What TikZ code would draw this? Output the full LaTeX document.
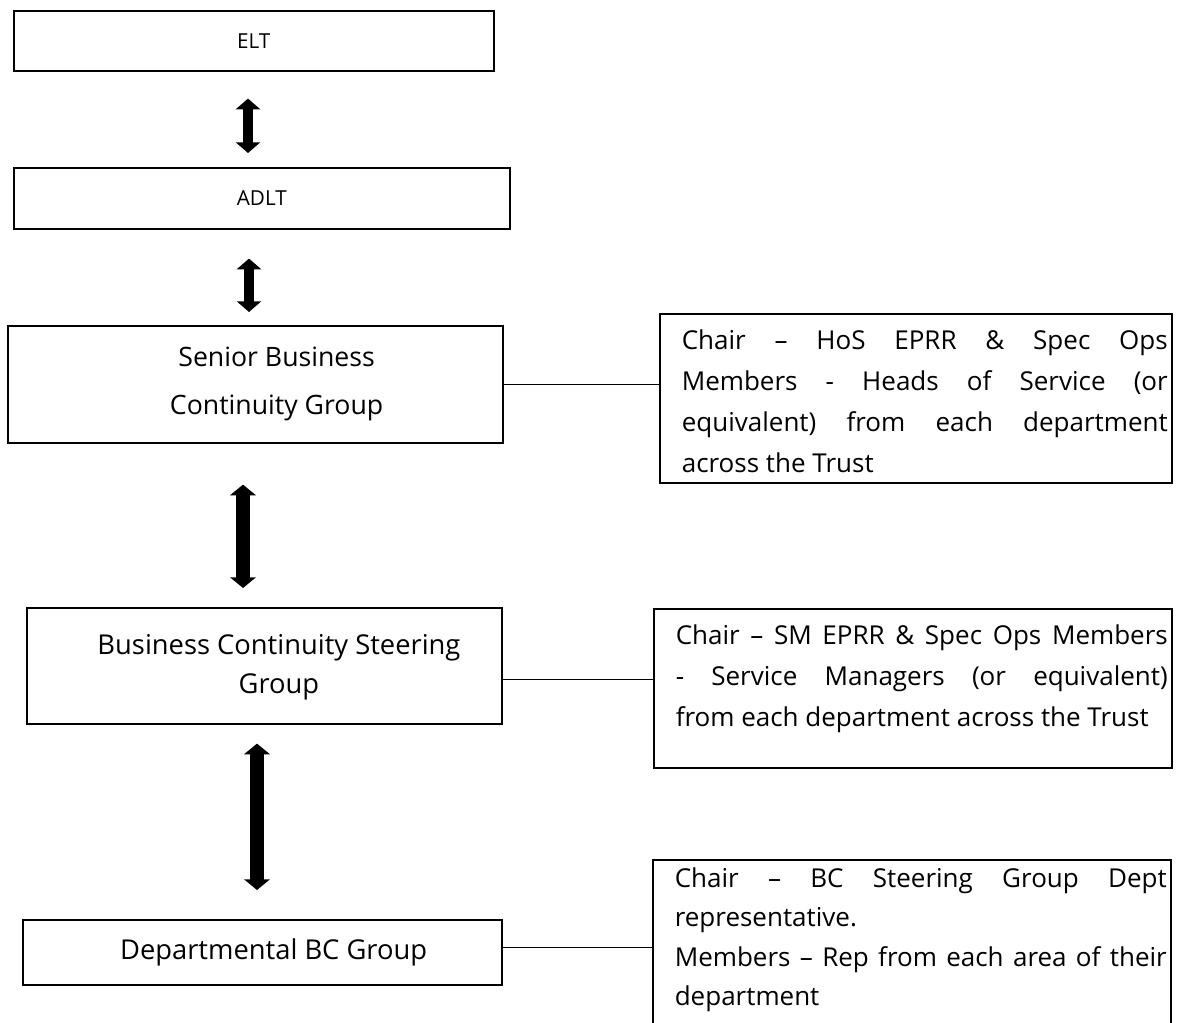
\documentclass[tikz,border=0pt]{standalone}
\usepackage{fontspec}
\setmainfont{Open Sans}
\usetikzlibrary{arrows.meta,calc}

% member text: [line spacing] height, width, text (justified, forced breaks)
\newcommand{\membertext}[4][30.75]{%
  \hspace*{16.5pt}\parbox[t][#2][t]{#3}{\fontsize{19.5}{#1}\selectfont
    \hyphenpenalty=10000 \tolerance=10000 \strut #4}\hspace*{3pt}}

\begin{document}
\begin{tikzpicture}[x=0.75pt, y=-0.75pt,
	groupbox/.style={draw, line width=1.2pt, anchor=north west, inner sep=0pt},
	grouplabel/.style={font=\fontsize{20}{36}\selectfont, align=center},
	membox/.style={draw, line width=1.2pt, anchor=north west, inner xsep=0pt, inner ysep=5pt},
	link/.style={line width=1pt},
	thinarrow/.style={line width=7.5pt, {Triangle[width=18pt,length=8pt]}-{Triangle[width=18pt,length=8pt]}},
	widearrow/.style={line width=10.5pt, {Triangle[width=19pt,length=8pt]}-{Triangle[width=19pt,length=8pt]}}]
	\clip (0,0) rectangle (1179,1023);

	% Draw the group boxes
	\node[groupbox, minimum width=360pt, minimum height=45pt, font=\fontsize{15.5}{18}\selectfont] (elt) at (13,10) {ELT};
	\node[groupbox, minimum width=372pt, minimum height=45.75pt, font=\fontsize{15.5}{18}\selectfont] (adlt) at (13,167) {ADLT};
	\node[groupbox, minimum width=371.25pt, minimum height=87.75pt,
		label={[grouplabel, xshift=16pt]center:{Senior Business\\Continuity Group}}] (sbcg) at (7,325) {};
	\node[groupbox, minimum width=356.25pt, minimum height=87pt,
		label={[grouplabel, xshift=11pt, yshift=-1pt, font=\fontsize{20.5}{29}\selectfont]center:{Business Continuity Steering\\Group}}] (bcsg) at (26,607) {};
	\node[groupbox, minimum width=359.25pt, minimum height=48.75pt,
		label={[grouplabel, xshift=8.5pt, font=\fontsize{20.5}{24}\selectfont]center:{Departmental BC Group}}] (dbcg) at (22,919) {};

	% Draw the membership boxes
	\node[membox] (sbcgm) at (659,313) {\membertext{116.75pt}{364.5pt}{Chair – HoS EPRR \& Spec Ops\linebreak
		Members - Heads of Service (or\linebreak equivalent) from each department\linebreak across the Trust}};
	\node[membox] (bcsgm) at (653,608) {\membertext{109.25pt}{369pt}{Chair – SM EPRR \& Spec Ops Members\linebreak
		- Service Managers (or equivalent)\linebreak from each department across the Trust}};
	\node[membox, inner ysep=0pt] (dbcgm) at (652,859) {\membertext[29.5]{170pt}{369pt}{Chair – BC Steering Group Dept\linebreak
		representative.\\ Members – Rep from each area of their\linebreak department}};

	% Draw the links to the members
	\draw[link] (sbcg.east) -- (sbcg.east -| sbcgm.west);
	\coordinate (c2) at ($(bcsg.east)+(0,14)$);
	\draw[link] (c2) -- (c2 -| bcsgm.west);
	\coordinate (c3) at ($(dbcg.east)+(0,-4.5)$);
	\draw[link] (c3) -- (c3 -| dbcgm.west);

	% Draw the two-way arrows between the levels
	\coordinate (a1) at (248,0);
	\coordinate (a2) at (249,0);
	\coordinate (a3) at (243,0);
	\coordinate (a4) at (257,0);
	\draw[thinarrow] ($(elt.south -| a1)+(0,27)$) -- ($(adlt.north -| a1)+(0,-14)$);
	\draw[thinarrow] ($(adlt.south -| a2)+(0,29)$) -- ($(sbcg.north -| a2)+(0,-13)$);
	\draw[widearrow] ($(sbcg.south -| a3)+(0,41)$) -- ($(bcsg.north -| a3)+(0,-19)$);
	\draw[widearrow] ($(bcsg.south -| a4)+(0,19)$) -- ($(dbcg.north -| a4)+(0,-29)$);
\end{tikzpicture}
\end{document}
